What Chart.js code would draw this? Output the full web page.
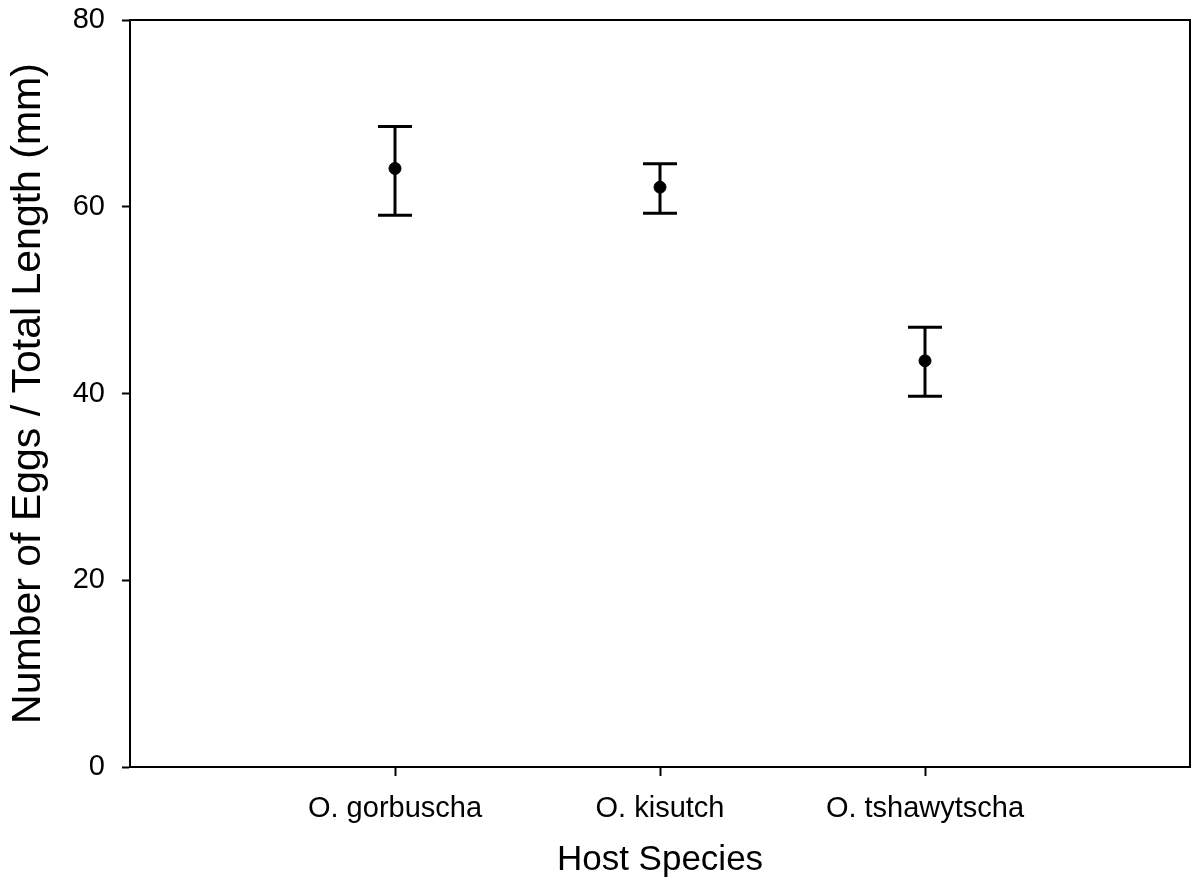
<!DOCTYPE html>
<html lang="en">
<head>
    <meta charset="UTF-8">
    <title>Eggs per length by host species</title>
    <script src="https://cdn.jsdelivr.net/npm/chart.js"></script>
    <style>
        html, body { margin: 0; padding: 0; background: #fff; overflow: hidden; }
        #wrap { width: 1197px; height: 894px; }
        canvas { display: block; }
    </style>
</head>
<body>
    <div id="wrap"><canvas id="chart" width="1197" height="894"></canvas></div>

    <script>
        // data
        const species = ['O. gorbuscha', 'O. kisutch', 'O. tshawytscha'];
        const means = [64.1, 62.1, 43.5];
        const upper = [68.6, 64.6, 47.1];
        const lower = [59.1, 59.3, 39.7];
        const yTicks = [0, 20, 40, 60, 80];

        const font = "'Liberation Sans', Arial, sans-serif";

        // box around the plot area
        const frame = {
            id: 'frame',
            afterDraw(chart) {
                const a = chart.chartArea;
                const ctx = chart.ctx;
                ctx.save();
                ctx.strokeStyle = '#000';
                ctx.lineWidth = 2;
                ctx.strokeRect(a.left, a.top, a.right - a.left, a.bottom - a.top);
                ctx.restore();
            }
        };

        // vertical error bars with caps
        const errorBars = {
            id: 'errorBars',
            beforeDatasetsDraw(chart) {
                const x = chart.scales.x, y = chart.scales.y;
                const ctx = chart.ctx;
                ctx.save();
                ctx.strokeStyle = '#000';
                ctx.lineWidth = 3;
                for (let i = 0; i < means.length; i++) {
                    const px = x.getPixelForValue(i + 1);
                    const top = y.getPixelForValue(upper[i]);
                    const bot = y.getPixelForValue(lower[i]);
                    ctx.beginPath();
                    ctx.moveTo(px, top); ctx.lineTo(px, bot);
                    ctx.moveTo(px - 17, top); ctx.lineTo(px + 17, top);
                    ctx.moveTo(px - 17, bot); ctx.lineTo(px + 17, bot);
                    ctx.stroke();
                }
                ctx.restore();
            }
        };

        const ctx = document.getElementById('chart').getContext('2d');
        new Chart(ctx, {
            type: 'scatter',
            data: {
                datasets: [{
                    data: means.map((m, i) => ({ x: i + 1, y: m })),
                    backgroundColor: '#000',
                    borderColor: '#000',
                    pointRadius: 6,
                    pointHoverRadius: 6,
                }]
            },
            options: {
                responsive: false,
                animation: false,
                layout: { padding: { top: 20, right: -1, left: 0, bottom: 0 } },
                plugins: { legend: { display: false }, tooltip: { enabled: false } },
                scales: {
                    x: {
                        type: 'linear',
                        min: 0,
                        max: 4,
                        afterBuildTicks: s => { s.ticks = species.map((_, i) => ({ value: i + 1 })); },
                        afterFit: s => { s.height = 127; s.paddingLeft = 0; s.paddingRight = 0; },
                        ticks: {
                            callback: v => species[v - 1] || '',
                            color: '#000',
                            font: { family: font, size: 29 },
                            padding: 16,
                            maxRotation: 0,
                        },
                        grid: { drawOnChartArea: false, drawTicks: true, tickLength: 9, tickColor: '#000', tickWidth: 2 },
                        border: { display: true, color: '#000', width: 2 },
                        title: {
                            display: true,
                            text: 'Host Species',
                            color: '#000',
                            font: { family: font, size: 35 },
                            padding: { top: 10, bottom: 13 },
                        },
                    },
                    y: {
                        min: 0,
                        max: 80,
                        afterBuildTicks: s => { s.ticks = yTicks.map(v => ({ value: v })); },
                        afterFit: s => { s.width = 130; s.paddingTop = 0; s.paddingBottom = 0; },
                        ticks: {
                            color: '#000',
                            font: { family: font, size: 29 },
                            padding: 17,
                        },
                        grid: { drawOnChartArea: false, drawTicks: true, tickLength: 8, tickColor: '#000', tickWidth: 2 },
                        border: { display: true, color: '#000', width: 2 },
                        title: {
                            display: true,
                            text: 'Number of Eggs / Total Length (mm)',
                            color: '#000',
                            font: { family: font, size: 41 },
                            padding: { top: 4, bottom: 0 },
                        },
                    },
                },
            },
            plugins: [frame, errorBars],
        });
    </script>
</body>
</html>
